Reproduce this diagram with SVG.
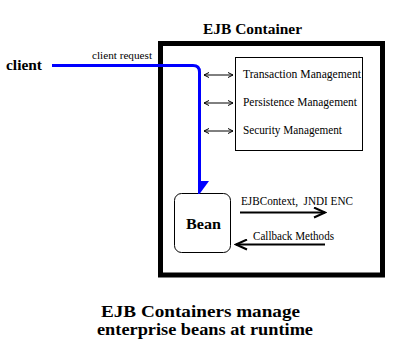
<svg xmlns="http://www.w3.org/2000/svg" width="396" height="353" viewBox="0 0 396 353" font-family="'Liberation Serif', 'Times New Roman', serif">
<style>
.b{font-weight:bold}
.s{font-size:11.5px}
.thin{stroke:#000;stroke-width:1;fill:none}
.thick{stroke:#000;stroke-width:2;fill:none}
</style>
<defs>
<marker id="oa" markerWidth="8" markerHeight="8" refX="6" refY="4" orient="auto-start-reverse" markerUnits="userSpaceOnUse">
<path d="M1,1.5 L6,4 L1,6.5" fill="none" stroke="#000" stroke-width="1"/>
</marker>
<marker id="ba" markerWidth="14" markerHeight="12" refX="12" refY="6" orient="auto" markerUnits="userSpaceOnUse">
<path d="M1,1 L12,6 L1,11" fill="none" stroke="#000" stroke-width="2"/>
</marker>
</defs>
<rect width="396" height="353" fill="#fff"/>
<g id="container">
<rect x="160.5" y="43.5" width="222" height="231.5" fill="none" stroke="#000" stroke-width="5"/>
<text class="b" x="203" y="34" font-size="15.5" font-family="Liberation Serif, serif" textLength="99" lengthAdjust="spacingAndGlyphs">EJB Container</text>
</g>
<g id="services">
<rect x="235.5" y="57.5" width="127" height="93" fill="#fff" stroke="#000" stroke-width="1"/>
<text class="s" x="243" y="78" font-family="Liberation Serif, serif" textLength="118" lengthAdjust="spacingAndGlyphs">Transaction Management</text>
<text class="s" x="243" y="106" font-family="Liberation Serif, serif" textLength="114" lengthAdjust="spacingAndGlyphs">Persistence Management</text>
<text class="s" x="243" y="134" font-family="Liberation Serif, serif" textLength="99" lengthAdjust="spacingAndGlyphs">Security Management</text>
</g>
<g id="client">
<text class="b" x="6" y="70" font-size="15.5" font-family="Liberation Serif, serif" textLength="36" lengthAdjust="spacingAndGlyphs">client</text>
</g>
<g id="bean">
<rect x="174.5" y="193.5" width="56" height="59" rx="7" fill="#fff" stroke="#000" stroke-width="1"/>
<text class="b" x="186" y="229" font-size="15" font-family="Liberation Serif, serif" textLength="35" lengthAdjust="spacingAndGlyphs">Bean</text>
</g>
<g id="connectors">
<path d="M52,65.5 H193 Q199.5,65.5 199.5,72 V184" fill="none" stroke="#0000ff" stroke-width="3"/>
<path d="M198,181 L209,181 L199.5,194 L198,194 Z" fill="#0000ff"/>
<text x="92" y="59" font-size="10" font-family="Liberation Serif, serif" textLength="60" lengthAdjust="spacingAndGlyphs">client request</text>
<line class="thin" x1="204" y1="75" x2="233" y2="75" marker-start="url(#oa)" marker-end="url(#oa)"/>
<line class="thin" x1="204" y1="103" x2="233" y2="103" marker-start="url(#oa)" marker-end="url(#oa)"/>
<line class="thin" x1="204" y1="131" x2="233" y2="131" marker-start="url(#oa)" marker-end="url(#oa)"/>
<line class="thick" x1="240" y1="212.5" x2="325" y2="212.5" marker-end="url(#ba)"/>
<line class="thick" x1="325" y1="244.5" x2="236" y2="244.5" marker-end="url(#ba)"/>
<text class="s" x="241" y="205" font-family="Liberation Serif, serif" xml:space="preserve" textLength="112" lengthAdjust="spacingAndGlyphs">EJBContext,  JNDI ENC</text>
<text class="s" x="253" y="240" font-family="Liberation Serif, serif" textLength="81" lengthAdjust="spacingAndGlyphs">Callback Methods</text>
</g>
<g id="caption">
<text class="b" x="101" y="317" font-size="17" font-family="Liberation Serif, serif" textLength="199" lengthAdjust="spacingAndGlyphs">EJB Containers manage</text>
<text class="b" x="97" y="335" font-size="17" font-family="Liberation Serif, serif" textLength="216" lengthAdjust="spacingAndGlyphs">enterprise beans at runtime</text>
</g>
</svg>
